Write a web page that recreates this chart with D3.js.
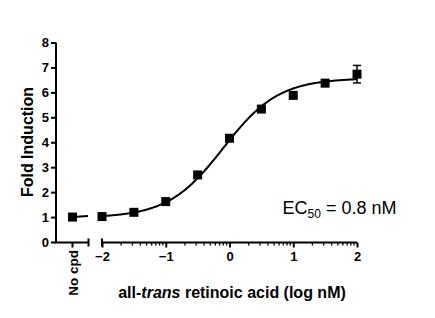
<!DOCTYPE html>
<html><head><meta charset="utf-8">
<script src="https://cdn.jsdelivr.net/npm/d3@7"></script>
<style>
body{margin:0;background:#fff;}
svg text{font-family:"Liberation Sans",Arial,sans-serif;}
</style></head><body>
<svg id="c" width="435" height="318"></svg>
<script>
// Data
const logConc = [-2, -1.5, -1, -0.5, 0, 0.5, 1, 1.5, 2];
const foldInd = [1.02, 1.19, 1.62, 2.69, 4.16, 5.33, 5.88, 6.37, 6.73];
const foldErr = [0, 0, 0, 0, 0, 0, 0, 0, 0.35];
const noCpdValue = 1.0;
const yTicks = [0, 1, 2, 3, 4, 5, 6, 7, 8];
const xTicks = [-2, -1, 0, 1, 2];
// 4-parameter logistic fit parameters
const fitBottom = 0.97, fitTop = 6.57, fitLogEC50 = -0.097, fitHill = 1.0;

const svg = d3.select("#c");
const y = d3.scaleLinear().domain([0, 8]).range([242, 42.5]);
const x = d3.scaleLinear().domain([-2, 2]).range([102, 357]);
const xNo = d3.scaleLinear().domain([0, 1]).range([56, 89]);
const axisY = 242.5;
const tickFont = 13;

// Y axis
const gy = svg.append("g").attr("transform", "translate(56,0)")
  .call(d3.axisLeft(y).tickValues(yTicks).tickSize(5).tickPadding(2).tickFormat(d3.format("d")));
gy.select(".domain").attr("d", `M0,${y(8)}V${axisY}`);
gy.selectAll("path,line").attr("stroke", "#000").attr("stroke-width", 2);
gy.selectAll("text").attr("font-size", tickFont).attr("font-weight", "bold").attr("fill", "#000");

// X axis left segment (No cpd)
svg.append("line").attr("x1", 55).attr("x2", 89).attr("y1", axisY).attr("y2", axisY)
  .attr("stroke", "#000").attr("stroke-width", 2);
svg.append("line").attr("x1", 88.5).attr("x2", 88.5).attr("y1", axisY - 4).attr("y2", axisY + 4)
  .attr("stroke", "#000").attr("stroke-width", 2);
svg.append("line").attr("x1", xNo(0.5)).attr("x2", xNo(0.5)).attr("y1", axisY).attr("y2", axisY + 5)
  .attr("stroke", "#000").attr("stroke-width", 2);
svg.append("text").attr("transform", `translate(${xNo(0.5) + 5},250) rotate(-90)`)
  .attr("text-anchor", "end").attr("font-size", 13.5).attr("font-weight", "bold").text("No cpd");

// X axis right segment
const gx = svg.append("g").attr("transform", `translate(0,${axisY})`)
  .call(d3.axisBottom(x).tickValues(xTicks).tickSize(5).tickPadding(4).tickFormat(d3.format("d")));
gx.select(".domain").attr("d", `M${x(-2)},0H${x(2)}`);
gx.selectAll("path,line").attr("stroke", "#000").attr("stroke-width", 2);
gx.selectAll("text").attr("font-size", tickFont).attr("font-weight", "bold").attr("fill", "#000");
svg.append("line").attr("x1", x(-2)).attr("x2", x(-2)).attr("y1", axisY - 4).attr("y2", axisY + 4)
  .attr("stroke", "#000").attr("stroke-width", 2);
// minor log ticks
const minor = [];
for (let d = -2; d < 2; d++) for (let k = 2; k <= 9; k++) minor.push(d + Math.log10(k));
svg.append("g").selectAll("line").data(minor).join("line")
  .attr("x1", d => x(d)).attr("x2", d => x(d)).attr("y1", axisY).attr("y2", axisY + 3)
  .attr("stroke", "#000").attr("stroke-width", 1.3);

// Fitted curve
const f = v => fitBottom + (fitTop - fitBottom) / (1 + Math.pow(10, (fitLogEC50 - v) * fitHill));
const cx = d3.range(-2, 2.0001, 0.02);
svg.append("path").attr("d", d3.line().x(d => x(d)).y(d => y(f(d)))(cx))
  .attr("fill", "none").attr("stroke", "#000").attr("stroke-width", 2);
// No cpd line
svg.append("line").attr("x1", xNo(0.5)).attr("x2", 88).attr("y1", y(noCpdValue)).attr("y2", y(noCpdValue + 0.04))
  .attr("stroke", "#000").attr("stroke-width", 2);

// Error bars
logConc.forEach((c, i) => {
  if (foldErr[i] > 0) {
    const g = svg.append("g").attr("stroke", "#000").attr("stroke-width", 1.5);
    g.append("line").attr("x1", x(c)).attr("x2", x(c)).attr("y1", y(foldInd[i] + foldErr[i])).attr("y2", y(foldInd[i] - foldErr[i]));
    g.append("line").attr("x1", x(c) - 4).attr("x2", x(c) + 4).attr("y1", y(foldInd[i] + foldErr[i])).attr("y2", y(foldInd[i] + foldErr[i]));
    g.append("line").attr("x1", x(c) - 4).attr("x2", x(c) + 4).attr("y1", y(foldInd[i] - foldErr[i])).attr("y2", y(foldInd[i] - foldErr[i]));
  }
});

// Points
const s = 9;
svg.append("g").selectAll("rect").data(logConc).join("rect")
  .attr("x", d => x(d) - s / 2).attr("y", (d, i) => y(foldInd[i]) - s / 2)
  .attr("width", s).attr("height", s).attr("fill", "#000");
svg.append("rect").attr("x", xNo(0.5) - s / 2).attr("y", y(noCpdValue) - s / 2)
  .attr("width", s).attr("height", s).attr("fill", "#000");

// Axis titles
svg.append("text").attr("transform", "translate(33,142) rotate(-90)").attr("text-anchor", "middle")
  .attr("font-size", 16).attr("font-weight", "bold").text("Fold Induction");
const xt = svg.append("text").attr("x", 232).attr("y", 298).attr("text-anchor", "middle")
  .attr("font-size", 16).attr("font-weight", "bold");
xt.append("tspan").text("all-");
xt.append("tspan").attr("font-style", "italic").text("trans");
xt.append("tspan").text(" retinoic acid (log nM)");

// EC50 annotation
const ec = svg.append("text").attr("x", 282.5).attr("y", 213.5).attr("font-size", 18);
ec.append("tspan").text("EC");
ec.append("tspan").attr("font-size", 12).attr("dy", 4).text("50");
ec.append("tspan").attr("dy", -4).text(" = 0.8 nM");
</script></body></html>
